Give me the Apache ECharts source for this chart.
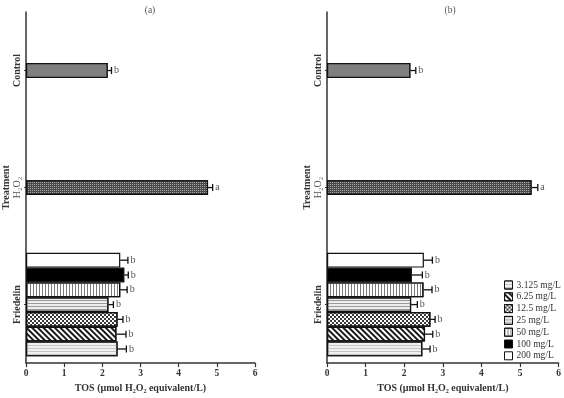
<!DOCTYPE html>
<html><head><meta charset="utf-8">
<script src="https://cdn.jsdelivr.net/npm/echarts@6/dist/echarts.min.js"></script>
<style>html,body{margin:0;padding:0;background:#fff}#c{width:564px;height:398px}</style>
</head><body><div id="c"></div>
<script>
// Categories listed top to bottom as in the figure
const categories = ['Control', 'H₂O₂', 'Friedelin'];
const concentrations = ['3.125 mg/L', '6.25 mg/L', '12.5 mg/L', '25 mg/L', '50 mg/L', '100 mg/L', '200 mg/L'];
const xTicks = [0, 1, 2, 3, 4, 5, 6];
// Panel (a)
const aControl = 2.14, aControlErr = 0.10, aControlLetter = 'b';
const aH2O2 = 4.77, aH2O2Err = 0.12, aH2O2Letter = 'a';
const aFriedelin = [2.40, 2.37, 2.40, 2.16, 2.47, 2.58, 2.47];
const aFriedelinErr = [0.23, 0.25, 0.14, 0.13, 0.18, 0.10, 0.20];
const aFriedelinLetters = ['b', 'b', 'b', 'b', 'b', 'b', 'b'];
// Panel (b)
const bControl = 2.16, bControlErr = 0.14, bControlLetter = 'b';
const bH2O2 = 5.30, bH2O2Err = 0.16, bH2O2Letter = 'a';
const bFriedelin = [2.47, 2.54, 2.68, 2.18, 2.50, 2.20, 2.51];
const bFriedelinErr = [0.20, 0.20, 0.12, 0.16, 0.22, 0.27, 0.22];
const bFriedelinLetters = ['b', 'b', 'b', 'b', 'b', 'b', 'b'];

const SERIF = 'Liberation Serif';
const yCats = categories.slice().reverse(); // bottom to top for the axis
const catIdx = name => yCats.indexOf(name);
const GAP = 0.115;
const N = concentrations.length;
const MID = 3; // middle slot carries Control / H2O2

const styles = [
  {color: '#f0f0f0', decal: {symbol: 'rect', symbolSize: 1, dashArrayX: [1, 0], dashArrayY: [1, 1.5], color: '#c4c4c4'}},
  {color: '#ffffff', decal: {symbol: 'rect', symbolSize: 1, dashArrayX: [1, 0], dashArrayY: [2, 2], rotation: Math.PI / 4, color: '#1a1a1a'}},
  {color: '#ffffff', decal: {symbol: 'rect', symbolSize: 1, dashArrayX: [[1.5, 1.5], [0, 1.5, 1.5, 0]], dashArrayY: [1.5, 0], color: '#3a3a3a'}},
  {color: '#eeeeee', decal: {symbol: 'rect', symbolSize: 1, dashArrayX: [1, 0], dashArrayY: [1, 1.5], color: '#9a9a9a'}},
  {color: '#ffffff', decal: {symbol: 'rect', symbolSize: 1, dashArrayX: [1, 1.5], dashArrayY: [1, 0], color: '#7a7a7a'}},
  {color: '#000000'},
  {color: '#ffffff'}
];
const controlStyle = {color: '#7f7f7f', decal: {symbol: 'rect', symbolSize: 1, dashArrayX: [1, 0], dashArrayY: [1, 0], color: '#7f7f7f'}};
const h2o2Style = {color: '#4a4a4a', decal: {symbol: 'rect', symbolSize: 1, dashArrayX: [1, 1], dashArrayY: [1, 1], color: '#a8a8a8'}};

function buildPanel(p, ctrl, ctrlErr, ctrlL, h2, h2Err, h2L, fr, frErr, frL) {
  const series = [];
  // first series is drawn at the top of each group -> iterate from highest concentration
  for (let k = N - 1; k >= 0; k--) {
    const data = yCats.map(c => '-');
    data[catIdx('Friedelin')] = fr[k];
    if (k === MID) {
      data[catIdx('Control')] = {value: ctrl, itemStyle: controlStyle};
      data[catIdx('H₂O₂')] = {value: h2, itemStyle: h2o2Style};
    }
    series.push({
      type: 'bar', name: concentrations[k], xAxisIndex: p, yAxisIndex: p,
      barGap: '0%', barCategoryGap: (GAP * 100) + '%',
      itemStyle: Object.assign({borderColor: '#111', borderWidth: 1.2}, styles[k]),
      data: data, silent: true, animation: false
    });
  }
  const errData = [];
  for (let k = 0; k < N; k++) errData.push([fr[k], catIdx('Friedelin'), frErr[k], N - 1 - k, frL[k]]);
  errData.push([ctrl, catIdx('Control'), ctrlErr, MID, ctrlL]);
  errData.push([h2, catIdx('H₂O₂'), h2Err, MID, h2L]);
  series.push({
    type: 'custom', xAxisIndex: p, yAxisIndex: p, silent: true, animation: false,
    encode: {x: 0, y: 1}, data: errData, z: 5,
    renderItem: function (params, api) {
      const v = api.value(0), cat = api.value(1), e = api.value(2), slot = api.value(3);
      const letter = errData[params.dataIndex][4];
      const c = api.coord([v, cat]);
      const band = api.size([0, 1])[1];
      const total = band * (1 - GAP);
      const bh = total / N;
      const y = c[1] - total / 2 + (slot + 0.5) * bh;
      const x1 = c[0];
      const x2 = api.coord([v + e, cat])[0];
      const st = {stroke: '#111', lineWidth: 1.3};
      return {type: 'group', children: [
        {type: 'line', shape: {x1: x1, y1: y, x2: x2, y2: y}, style: st},
        {type: 'line', shape: {x1: x2, y1: y - 3.5, x2: x2, y2: y + 3.5}, style: st},
        {type: 'text', x: x2 + 2.5, y: y, style: {text: letter, fill: '#555', font: '10px "' + SERIF + '"', verticalAlign: 'middle', align: 'left'}}
      ]};
    }
  });
  return series;
}

const xAxisCommon = (gi) => ({
  type: 'value', gridIndex: gi, min: 0, max: 6, interval: 1,
  name: 'TOS (µmol H₂O₂ equivalent/L)', nameLocation: 'middle', nameGap: 18,
  nameTextStyle: {fontFamily: SERIF, fontWeight: 'bold', fontSize: 10, color: '#333'},
  axisLine: {show: true, lineStyle: {color: '#333', width: 1.5}},
  axisTick: {show: true, length: 4, lineStyle: {color: '#333', width: 1.2}},
  axisLabel: {margin: 5, fontFamily: SERIF, fontWeight: 'bold', fontSize: 9.5, color: '#333',
    formatter: v => xTicks.indexOf(v) >= 0 ? String(v) : ''},
  splitLine: {show: false}
});
const yAxisCommon = (gi) => ({
  type: 'category', gridIndex: gi, data: yCats,
  name: 'Treatment', nameLocation: 'middle', nameGap: 15, nameRotate: 90,
  nameTextStyle: {fontFamily: SERIF, fontWeight: 'bold', fontSize: 10, color: '#333'},
  axisLine: {show: true, lineStyle: {color: '#333', width: 1.5}},
  axisTick: {show: true, alignWithLabel: true, length: 2, lineStyle: {color: '#333'}},
  axisLabel: {rotate: 90, margin: 4, fontFamily: SERIF, fontSize: 10, color: '#333',
    formatter: v => v === 'H₂O₂' ? '{n|' + v + '}' : '{b|' + v + '}',
    rich: {b: {fontFamily: SERIF, fontWeight: 'bold', fontSize: 10, color: '#333'},
           n: {fontFamily: SERIF, fontSize: 10, color: '#555'}}}
});

const chart = echarts.init(document.getElementById('c'), null, {renderer: 'canvas'});
chart.setOption({
  backgroundColor: '#fff',
  animation: false,
  title: [
    {text: '(a)', left: 150, top: 5, padding: 0, textAlign: 'center', textStyle: {fontFamily: SERIF, fontWeight: 'normal', fontSize: 9.5, color: '#555'}},
    {text: '(b)', left: 450, top: 5, padding: 0, textAlign: 'center', textStyle: {fontFamily: SERIF, fontWeight: 'normal', fontSize: 9.5, color: '#555'}}
  ],
  grid: [
    {left: 22, right: 309, top: 12, bottom: 30},
    {left: 327, right: 5, top: 12, bottom: 30}
  ],
  legend: {
    orient: 'vertical', left: 504, top: 280, padding: 0, itemWidth: 8, itemHeight: 8, itemGap: 1.8,
    icon: 'rect', selectedMode: false,
    textStyle: {fontFamily: SERIF, fontSize: 9.5, color: '#333', padding: [0, 0, 0, -1]},
    itemStyle: {borderColor: '#111', borderWidth: 1},
    data: concentrations.map((c, k) => ({name: c, itemStyle: Object.assign({borderColor: '#111', borderWidth: 1}, styles[k])}))
  },
  xAxis: [xAxisCommon(0), xAxisCommon(1)],
  yAxis: [yAxisCommon(0), yAxisCommon(1)],
  series: buildPanel(0, aControl, aControlErr, aControlLetter, aH2O2, aH2O2Err, aH2O2Letter, aFriedelin, aFriedelinErr, aFriedelinLetters)
    .concat(buildPanel(1, bControl, bControlErr, bControlLetter, bH2O2, bH2O2Err, bH2O2Letter, bFriedelin, bFriedelinErr, bFriedelinLetters))
});
</script></body></html>
